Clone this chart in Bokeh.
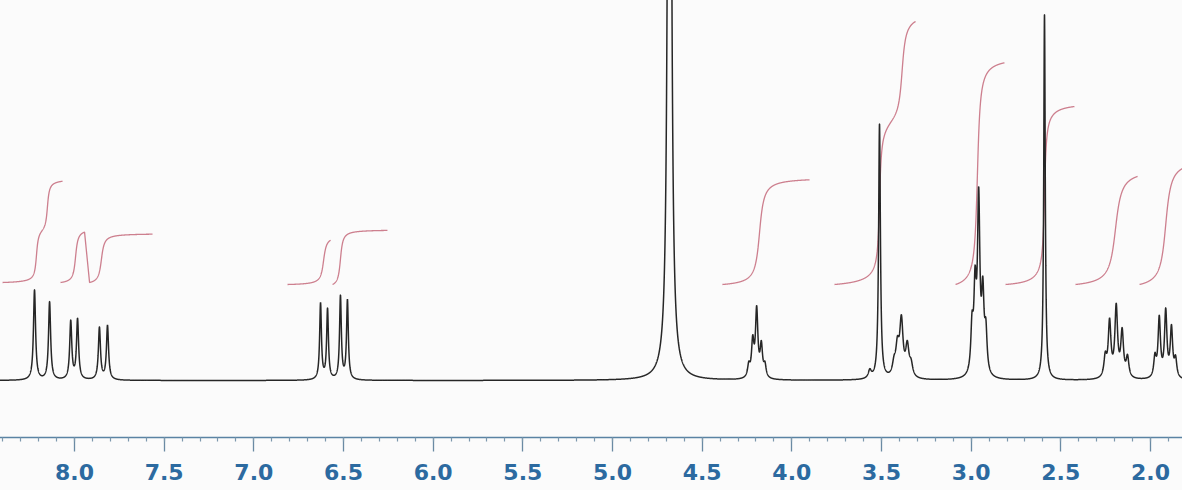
import numpy as np
from bokeh.plotting import figure
from bokeh.models import Range1d, FixedTicker, ColumnDataSource, NumeralTickFormatter
from bokeh.embed import file_html
from bokeh.resources import INLINE

# ---------------- data ----------------
# peak lines: chemical shift (ppm), height (arb. units above baseline), half-width (ppm)
peak_ppm = [8.223, 8.139, 8.021, 7.983, 7.861, 7.816,
            6.628, 6.589, 6.517, 6.478,
            4.682,
            4.240, 4.218, 4.196, 4.170, 4.150,
            3.565, 3.511,
            3.430, 3.411, 3.389, 3.356, 3.335,
            2.995, 2.978, 2.958, 2.935, 2.918,
            2.591,
            2.252, 2.228, 2.191, 2.158, 2.128,
            1.975, 1.951, 1.915, 1.883, 1.860]
peak_height = [90, 78, 58, 60, 52, 54,
               76, 70, 83, 79,
               1500,
               12, 35, 67, 31, 12,
               8, 255,
               12, 28, 55, 30, 12,
               45, 80, 171, 75, 40,
               366,
               20, 55, 70, 45, 20,
               20, 59, 66, 49, 18]
peak_hwhm = [0.007, 0.007, 0.007, 0.007, 0.007, 0.007,
             0.006, 0.006, 0.006, 0.006,
             0.008,
             0.008, 0.008, 0.008, 0.008, 0.008,
             0.010, 0.006,
             0.011, 0.011, 0.011, 0.011, 0.011,
             0.008, 0.008, 0.008, 0.008, 0.008,
             0.005,
             0.009, 0.009, 0.009, 0.009, 0.009,
             0.008, 0.008, 0.008, 0.008, 0.008]

# integral traces: start/end ppm, base level, line group, and steps (centre, rise, width)
int_start = [8.401, 8.078, 7.916, 6.812, 6.561, 4.387, 3.762, 3.087, 2.808, 2.418, 2.061]
int_end   = [8.067, 7.944, 7.565, 6.572, 6.255, 3.901, 3.310, 2.814, 2.424, 2.072, 1.821]
int_base  = [98, 98, 98, 96, 96, 96, 96, 96, 96, 96, 96]
int_group = [0, 1, 1, 2, 3, 4, 5, 6, 7, 8, 9]
int_step_ppm   = [[8.212, 8.151], [7.994], [7.850], [6.611], [6.517], [4.180],
                  [3.511, 3.500, 3.385], [2.965], [2.591, 2.600], [2.195], [1.915]]
int_step_rise  = [[53, 52], [56], [52], [50], [59], [110],
                  [150, 20, 108], [235], [170, 15], [120], [132]]
int_step_width = [[0.008, 0.008], [0.010], [0.012], [0.012], [0.010], [0.018],
                  [0.008, 0.060, 0.015], [0.012], [0.008, 0.050], [0.025], [0.022]]

# axis ticks
major_ticks = [8.0, 7.5, 7.0, 6.5, 6.0, 5.5, 5.0, 4.5, 4.0, 3.5, 3.0, 2.5, 2.0]
minor_ticks = [round(8.4 - 0.1 * i, 1) for i in range(66)]

# ---------------- build curves ----------------
x = np.arange(1.80, 8.48, 0.0004)
y = np.zeros_like(x)
for c, h, w in zip(peak_ppm, peak_height, peak_hwhm):
    y += h * w * w / ((x - c) ** 2 + w * w)


def cum(xv, c, w):
    return 0.5 + np.arctan((c - xv) / w) / np.pi


groups = {}
for s, e, b, g, cs, rs, ws in zip(int_start, int_end, int_base, int_group,
                                 int_step_ppm, int_step_rise, int_step_width):
    xi = np.linspace(s, e, 400)
    yi = np.full_like(xi, float(b))
    for c, r, w in zip(cs, rs, ws):
        yi += r * (cum(xi, c, w) - cum(s, c, w))
    gx, gy = groups.setdefault(g, ([], []))
    gx.extend(xi.tolist())
    gy.extend(yi.tolist())

int_src = ColumnDataSource(dict(xs=[groups[k][0] for k in sorted(groups)],
                                ys=[groups[k][1] for k in sorted(groups)]))

# ---------------- figure ----------------
p = figure(width=1190, height=498, output_backend="svg", toolbar_location=None,
           x_range=Range1d(8.4573, 1.8214), y_range=Range1d(-57, 388),
           y_axis_location=None, min_border_left=0, min_border_right=0,
           min_border_top=0, min_border_bottom=53)
p.margin = (-8, -8, -8, -8)
p.outline_line_color = None
p.background_fill_color = "#fbfbfb"
p.border_fill_color = "#fbfbfb"
p.xgrid.visible = False
p.ygrid.visible = False

p.multi_line("xs", "ys", source=int_src, line_color="#c4687a", line_width=1.3, line_alpha=0.85)
p.line(x, y, line_color="#262626", line_width=1.5)

ax = p.xaxis[0]
ax.ticker = FixedTicker(ticks=major_ticks, minor_ticks=minor_ticks)
ax.formatter = NumeralTickFormatter(format="0.0")
ax.axis_line_color = "#5a83a3"
ax.axis_line_width = 1.5
ax.major_tick_line_color = "#6a8aa3"
ax.minor_tick_line_color = "#7d98ad"
ax.major_tick_line_width = 1.3
ax.minor_tick_line_width = 1.2
ax.major_tick_in = 0
ax.major_tick_out = 14
ax.minor_tick_in = 0
ax.minor_tick_out = 4
ax.major_label_standoff = 12
ax.major_label_text_font = "DejaVu Sans"
ax.major_label_text_font_style = "bold"
ax.major_label_text_font_size = "22px"
ax.major_label_text_color = "#2c6aa0"

open("out.html", "w").write(file_html(p, INLINE))
